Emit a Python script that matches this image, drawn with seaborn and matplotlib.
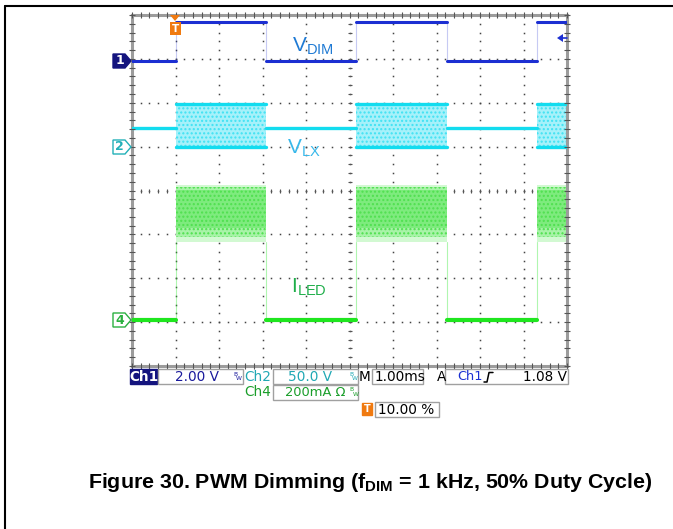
import numpy as np
import pandas as pd
import matplotlib
matplotlib.use("Agg")
import matplotlib.pyplot as plt
import seaborn as sns
from matplotlib.patches import Polygon, Rectangle
from matplotlib.lines import Line2D

# ---------------- data (oscilloscope divisions) ----------------
edge_times = [1.01, 3.08, 5.15, 7.24, 9.31]      # PWM edges (rise, fall, rise, fall, rise)
ch1_levels = [6.95, 7.84]                        # V_DIM low / high
ch2_off_level = 5.42                             # V_LX while LED off
ch2_on_band = [4.99, 5.97]                       # V_LX switching band
ch4_off_level = 1.05                             # I_LED off
ch4_on_band = [2.82, 4.12]                       # I_LED ripple envelope
ch4_mid_band = [2.95, 4.07]                      # I_LED medium-density ripple
ch4_dense_band = [3.15, 4.02]                    # I_LED dense ripple region
trigger_level = 7.51
trace_labels = ["V", "V", "I"]
trace_subs = ["DIM", "LX", "LED"]
status_row1 = ["Ch1", "2.00 V", "Ch2", "50.0 V", "M", "1.00ms", "A", "Ch1", "1.08 V"]
status_row2 = ["Ch4", "200mA \u03A9"]
status_row3 = ["10.00 %"]
caption = r"Figure 30. PWM Dimming (f$_{\mathbf{DIM}}$ = 1 kHz, 50% Duty Cycle)"

W, H = 673, 529
sns.set_style("white")
plt.rcParams["font.family"] = ["DejaVu Sans"]
plt.rcParams["text.color"] = "black"
plt.rcParams["mathtext.fontset"] = "custom"
plt.rcParams["mathtext.rm"] = "Liberation Sans"
plt.rcParams["mathtext.bf"] = "Liberation Sans:bold"

fig = plt.figure(figsize=(W / 100, H / 100), dpi=100)
fig.patch.set_facecolor("white")

def fx(x):
    return x / W

def fy(y):
    return 1 - y / H

L, R, T, B = 132, 567, 15, 366
ax = fig.add_axes([fx(L), fy(B), (R - L) / W, (B - T) / H])
ax.set_xlim(0, 10)
ax.set_ylim(0, 8)
ax.set_xticks([])
ax.set_yticks([])
for s in ax.spines.values():
    s.set_color("#9c9c9c")
    s.set_linewidth(2.2)

# ---------------- graticule ----------------
minor = np.arange(0, 10.001, 0.2)
minor_y = np.arange(0, 8.001, 0.2)
for k in range(1, 10):
    ax.plot(np.full_like(minor_y, k), minor_y, ls="none", marker="s", ms=1.1,
            color="#444444", mec="none", zorder=1)
for k in range(1, 8):
    ax.plot(minor, np.full_like(minor, k), ls="none", marker="s", ms=1.1,
            color="#444444", mec="none", zorder=1)
ax.plot(minor, np.full_like(minor, 4), ls="none", marker="|", ms=3.2, mew=0.8,
        color="#555555", zorder=1)
ax.plot(np.full_like(minor_y, 5), minor_y, ls="none", marker="_", ms=3.2, mew=0.8,
        color="#555555", zorder=1)
for xb in (0, 10):
    ax.plot(np.full_like(minor_y, xb), minor_y, ls="none", marker="_", ms=4.5, mew=0.8,
            color="#555555", zorder=5, clip_on=False)
for yb in (0, 8):
    ax.plot(minor, np.full_like(minor, yb), ls="none", marker="|", ms=4.5, mew=0.8,
            color="#555555", zorder=5, clip_on=False)

# ---------------- traces ----------------
bounds = [0.0] + edge_times + [10.0]
rows = []
for i in range(len(bounds) - 1):
    t0, t1 = bounds[i], bounds[i + 1]
    on = (i % 2 == 1)
    lvl = ch1_levels[1] if on else ch1_levels[0]
    rows += [("ch1", f"a{i}", t0, lvl), ("ch1", f"a{i}", t1, lvl)]
    if on:
        for j, b in enumerate(ch2_on_band):
            rows += [("ch2", f"b{i}{j}", t0, b), ("ch2", f"b{i}{j}", t1, b)]
    else:
        rows += [("ch2", f"c{i}", t0, ch2_off_level), ("ch2", f"c{i}", t1, ch2_off_level)]
        rows += [("ch4", f"d{i}", t0, ch4_off_level), ("ch4", f"d{i}", t1, ch4_off_level)]
df = pd.DataFrame(rows, columns=["trace", "seg", "t", "v"])

palette = {"ch1": "#1c2fd2", "ch2": "#12dcef", "ch4": "#1fe61f"}

# switching bands
for i in range(len(bounds) - 1):
    if i % 2 == 1:
        t0, t1 = bounds[i], bounds[i + 1]
        ax.fill_between([t0, t1], ch2_on_band[0], ch2_on_band[1], color="#a6f1fa",
                        lw=0, zorder=2)
        ax.fill_between([t0, t1], ch2_on_band[0], ch2_on_band[1], facecolor="none",
                        edgecolor="#3fe2f3", hatch="....", lw=0, zorder=2)
        ax.fill_between([t0, t1], ch4_on_band[0], ch4_on_band[1], color="#d2f9d2",
                        lw=0, zorder=2)
        ax.fill_between([t0, t1], ch4_mid_band[0], ch4_mid_band[1], color="#a8f3a8",
                        lw=0, zorder=2)
        ax.fill_between([t0, t1], ch4_dense_band[0], ch4_dense_band[1], color="#7eeb7e",
                        lw=0, zorder=2)
        ax.fill_between([t0, t1], ch4_mid_band[0], ch4_mid_band[1], facecolor="none",
                        edgecolor="#4fe04f", hatch="....", lw=0, zorder=2)

# faint edges
for e in edge_times:
    ax.plot([e, e], ch1_levels, color=palette["ch1"], lw=0.8, alpha=0.25, zorder=3)
    ax.plot([e, e], [ch4_off_level, ch4_on_band[0]], color=palette["ch4"], lw=0.8,
            alpha=0.35, zorder=3)

for tr, lw in (("ch1", 2.2), ("ch2", 2.4), ("ch4", 3.0)):
    sns.lineplot(data=df[df.trace == tr], x="t", y="v", units="seg", estimator=None,
                 sort=False, color=palette[tr], lw=lw, ax=ax, legend=False, zorder=4)
ax.set_xlabel("")
ax.set_ylabel("")

# ---------------- trace labels ----------------
lab_pos = [(292, 51), (287, 153), (291, 292)]
lab_col = ["#1f7ad4", "#38b8ea", "#1fae4a"]
for (x, y), s, sub, c in zip(lab_pos, trace_labels, trace_subs, lab_col):
    fig.text(fx(x), fy(y), s + r"$_{\mathregular{" + sub + "}}$", color=c, fontsize=15,
             family="Liberation Sans", va="baseline", ha="left")

# ---------------- channel markers ----------------
def marker(yc, label, fc, ec, tc):
    pts = [(113, yc - 7), (125, yc - 7), (131, yc), (125, yc + 7), (113, yc + 7)]
    fig.add_artist(Polygon([(fx(a), fy(b)) for a, b in pts], closed=True,
                           transform=fig.transFigure, fc=fc, ec=ec, lw=1.0))
    fig.text(fx(119.5), fy(yc), label, color=tc, fontsize=9, weight="bold",
             ha="center", va="center")

marker(61, "1", "#14147e", "#14147e", "white")
marker(147, "2", "white", "#22b0b8", "#22b0b8")
marker(320, "4", "white", "#2bb040", "#2bb040")

# trigger position marker
fig.add_artist(Polygon([(fx(170), fy(15)), (fx(180), fy(15)), (fx(175), fy(21))],
                       closed=True, transform=fig.transFigure, fc="#f07a10", ec="none"))
fig.add_artist(Rectangle((fx(170), fy(35)), 11 / W, 13 / H, transform=fig.transFigure,
                         fc="#f07a10", ec="none"))
fig.text(fx(175.5), fy(28.5), "T", color="white", fontsize=7.5, weight="bold",
         ha="center", va="center")
# trigger level arrow
fig.add_artist(Polygon([(fx(557), fy(38)), (fx(563), fy(34)), (fx(563), fy(42))],
                       closed=True, transform=fig.transFigure, fc="#1c2fd2", ec="none"))
fig.add_artist(Line2D([fx(562), fx(567)], [fy(38), fy(38)], color="#1c2fd2", lw=1.2))

# ---------------- status bar ----------------
def box(x0, y0, x1, y1, fc="white", ec="#a0a0a0"):
    fig.add_artist(Rectangle((fx(x0), fy(y1)), (x1 - x0) / W, (y1 - y0) / H,
                             transform=fig.transFigure, fc=fc, ec=ec, lw=1.0))

def txt(x, y, s, c="black", size=9.8, ha="left", **kw):
    fig.text(fx(x), fy(y), s, color=c, fontsize=size, ha=ha, va="center", **kw)

def bw(x, y, c):
    txt(x, y - 3, "B", c, 4.3)
    txt(x + 2.8, y + 1.8, "W", c, 4.3)

navy, teal, green = "#1a1a9c", "#20a8b4", "#1a9e2a"
box(130, 369, 157, 384, fc="#14147e", ec="#14147e")
txt(143.5, 377, status_row1[0], "white", 9.8, ha="center", weight="bold")
box(158, 369, 243, 384)
txt(175, 377, status_row1[1], navy)
bw(233, 377, navy)
txt(244, 377, status_row1[2], teal)
box(273, 369, 358, 384)
txt(288, 377, status_row1[3], teal)
bw(349, 377, teal)
txt(359, 377, status_row1[4], "black")
box(372, 369, 423, 384)
txt(375, 377, status_row1[5], "black")
txt(437, 377, status_row1[6], "black")
box(445, 369, 568, 384)
txt(457, 377, status_row1[7], "#1a2fd2", 9.3)
fig.add_artist(Line2D([fx(484), fx(487), fx(489), fx(493)],
                      [fy(382), fy(382), fy(372.5), fy(372.5)], color="black", lw=1.1))
txt(567, 377, status_row1[8], "black", ha="right")

txt(244, 392, status_row2[0], green)
box(273, 385, 358, 400)
txt(285, 392.5, status_row2[1], green, 9.4)
bw(349.5, 392.5, green)

box(362, 403, 372, 415, fc="#f07a10", ec="#f07a10")
txt(367, 409, "T", "white", 7, ha="center", weight="bold")
box(375, 402, 439, 417)
txt(378, 409.5, status_row3[0], "black")

# ---------------- caption & frame ----------------
fig.text(fx(370), fy(483), caption, fontsize=15.4, weight="bold", color="black",
         family="Liberation Sans", ha="center", va="center")
fig.add_artist(Line2D([fx(5), fx(5)], [fy(6), 0], color="black", lw=1.5))
fig.add_artist(Line2D([fx(5), 1], [fy(6), fy(6)], color="black", lw=1.5))

fig.savefig("out.png", dpi=100)
